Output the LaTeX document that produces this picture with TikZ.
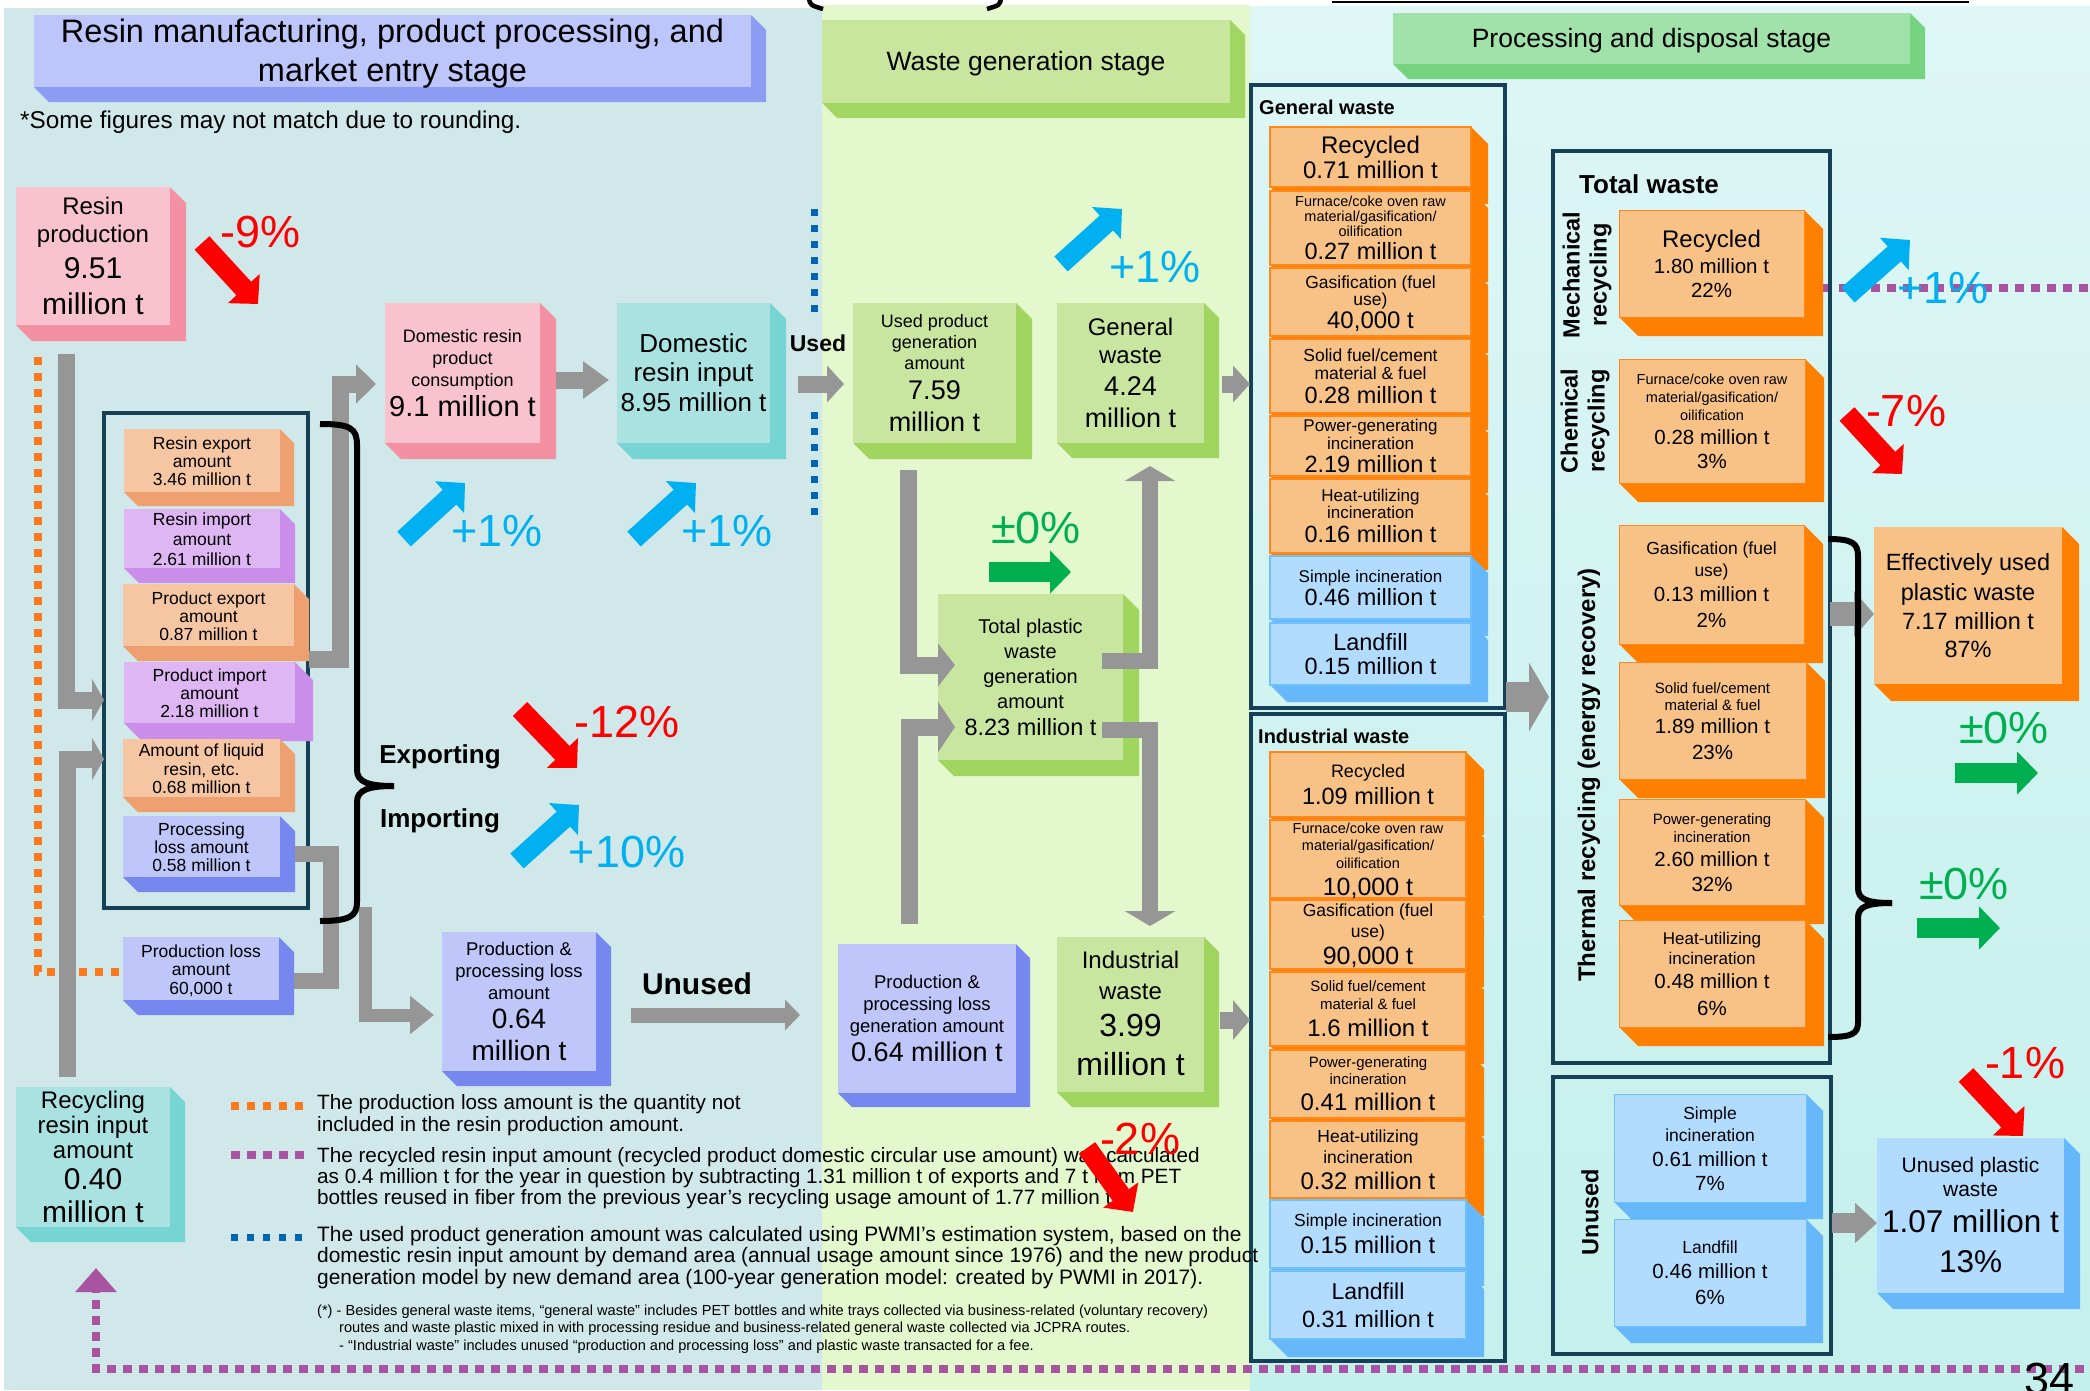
\documentclass[tikz,border=0pt]{standalone}
\usepackage{fontspec}
\setmainfont{Liberation Sans}
\usetikzlibrary{arrows.meta,calc}

\definecolor{bgL}{RGB}{208,232,234}
\definecolor{bgM}{RGB}{228,248,206}
\definecolor{bgRt}{RGB}{222,246,246}
\definecolor{bgRb}{RGB}{196,240,236}
\definecolor{pinkF}{RGB}{248,194,206}
\definecolor{pinkS}{RGB}{243,144,162}
\definecolor{tealF}{RGB}{170,226,226}
\definecolor{tealS}{RGB}{118,212,210}
\definecolor{periF}{RGB}{190,198,250}
\definecolor{periS}{RGB}{118,136,240}
\definecolor{peachF}{RGB}{246,198,162}
\definecolor{peachS}{RGB}{238,160,112}
\definecolor{lilacF}{RGB}{222,182,244}
\definecolor{lilacS}{RGB}{202,142,234}
\definecolor{leafF}{RGB}{200,230,160}
\definecolor{leafS}{RGB}{160,214,96}
\definecolor{wOrF}{RGB}{248,194,134}
\definecolor{wOrB}{RGB}{255,136,24}
\definecolor{wOrS}{RGB}{255,128,0}
\definecolor{wBlF}{RGB}{178,220,255}
\definecolor{wBlB}{RGB}{112,192,252}
\definecolor{wBlS}{RGB}{102,184,250}
\definecolor{hdAF}{RGB}{188,198,250}
\definecolor{hdAS}{RGB}{140,156,242}
\definecolor{hdBF}{RGB}{200,230,158}
\definecolor{hdBS}{RGB}{162,214,98}
\definecolor{hdCF}{RGB}{160,226,170}
\definecolor{hdCS}{RGB}{118,212,128}
\definecolor{frame}{RGB}{22,64,86}
\definecolor{flowgray}{RGB}{150,150,150}
\definecolor{upblue}{RGB}{0,176,240}
\definecolor{downred}{RGB}{255,0,0}
\definecolor{flatgreen}{RGB}{0,176,80}
\definecolor{dotorange}{RGB}{250,120,30}
\definecolor{dotpurple}{RGB}{168,84,160}
\definecolor{dotblue}{RGB}{0,100,180}

% one centred text line: size, distance from previous baseline, text
\newcommand{\tline}[3]{\baselineskip=#2pt\relax\hbox to 0pt{\hss\fontsize{#1}{#1}\selectfont\vphantom{Ag}#3\hss}}
% one left-aligned text line
\newcommand{\legline}[3]{\baselineskip=#2pt\relax\hbox{\fontsize{#1}{#1}\selectfont\vphantom{Ag}#3}}
\newcommand{\textstack}[1]{\vbox{\lineskiplimit=-1000pt\lineskip=0pt\relax#1}}

% box with a bevelled right side and bottom:
% name, x1, y1, x2, y2, depth, face style, side colour, text lines
\newcommand{\tdbox}[9]{%
  \fill[#8] (#4,#3) -- ({#4+#6},{#3+#6}) -- ({#4+#6},{#5+#6}) -- ({#2+#6},{#5+#6}) -- (#2,#5) -- cycle;
  \node[face, #7, minimum width={#4-#2}, minimum height={#5-#3}] (#1) at ({(#2+#4)/2},{(#3+#5)/2}) {};
  \node[inner sep=0pt] (#1-t) at ($(#1.center)+(0,2.5)$) {\textstack{#9}};
}

\tikzset{
  face/.style={rectangle, inner sep=0pt, outer sep=0pt},
  frame box/.style={draw=frame, line width=4.5pt},
  worow/.style={fill=wOrF, draw=wOrB, line width=2pt},
  wbrow/.style={fill=wBlF, draw=wBlB, line width=2pt},
  torow/.style={fill=wOrF, draw=wOrB, line width=1pt},
  tbrow/.style={fill=wBlF, draw=wBlB, line width=1pt},
  flow/.style={draw=flowgray, line width=17pt, -{Triangle[length=20pt,width=38pt]}},
  flowbar/.style={draw=flowgray, line width=16pt},
  trendup/.style={draw=upblue, line width=20pt, -{Triangle[length=21pt,width=42pt]}},
  trenddown/.style={draw=downred, line width=20pt, -{Triangle[length=21pt,width=42pt]}},
  trendflat/.style={draw=flatgreen, line width=20pt, -{Triangle[length=21pt,width=42pt]}},
  pct/.style={inner sep=0pt, font=\fontsize{45}{45}\selectfont},
  lbl/.style={inner sep=0pt},
  odot/.style={draw=dotorange, line width=8pt, dash pattern=on 8pt off 8pt},
  pdot/.style={draw=dotpurple, line width=8pt, dash pattern=on 9pt off 7pt},
  bdot/.style={draw=dotblue, line width=7pt, dash pattern=on 7pt off 9pt},
  brace/.style={draw=black, line width=6pt},
}

\begin{document}
\begin{tikzpicture}[x=1pt,y=-1pt]
\useasboundingbox (0,0) rectangle (2090,1390);
\clip (0,0) rectangle (2090,1390);

% stage backgrounds
\fill[white] (0,0) rectangle (2090,1390);
\fill[bgL] (4,8) rectangle (822,1390);
\fill[bgM] (822,5) rectangle (1250,1390);
\shade[top color=bgRt, bottom color=bgRb] (1250,6) rectangle (2090,1390);

% cropped heading marks along the top edge
\draw[line width=2pt] (1332,2) -- (1969,2);
\draw[line width=4.5pt] (809,-2) .. controls (810,5) .. (823,9);
\draw[line width=4.5pt] (1001,-2) .. controls (1000,5) .. (987,9);

% stage headers
\tdbox{hdA}{34}{15}{751}{87}{15}{fill=hdAF}{hdAS}{\tline{32.5}{0}{Resin manufacturing, product processing, and}\tline{32.5}{39}{market entry stage}}
\tdbox{hdB}{822}{20}{1230}{103}{15}{fill=hdBF}{hdBS}{\tline{26.5}{0}{Waste generation stage}}
\tdbox{hdC}{1393}{13}{1910}{64}{15}{fill=hdCF}{hdCS}{\tline{26.5}{0}{Processing and disposal stage}}

\node[lbl, anchor=west] (rounding) at (20,122) {\fontsize{24.3}{24.3}\selectfont *Some figures may not match due to rounding.};

% dotted guide lines
\coordinate (lossNoteTop) at (38,357);
\coordinate (lossNoteBend) at (38,972);
\coordinate (usedDotA) at (814,209);
\coordinate (usedDotB) at (814,316);
\coordinate (usedDotC) at (814,412);
\coordinate (usedDotD) at (814,520);
\draw[bdot] (usedDotA) -- (usedDotB);
\draw[bdot] (usedDotC) -- (usedDotD);

% legend samples
\coordinate (legOA) at (231,1106); \coordinate (legOB) at (304,1106);
\coordinate (legPA) at (231,1155); \coordinate (legPB) at (304,1155);
\coordinate (legBA) at (231,1237); \coordinate (legBB) at (304,1237);
\draw[odot] (legOA) -- (legOB);
\draw[pdot] (legPA) -- (legPB);
\draw[bdot] (legBA) -- (legBB);

% ---------- left stage ----------
\node[face, frame box, minimum width=204, minimum height=495] (trade) at (206,660.5) {};

\tdbox{rp}{16}{187}{170}{325}{16}{fill=pinkF}{pinkS}{\tline{24}{0}{Resin}\tline{24}{28}{production}\tline{30}{36}{9.51}\tline{30}{36}{million t}}
\tdbox{rex}{124}{429}{280}{492}{14}{fill=peachF}{peachS}{\tline{17.5}{0}{Resin export}\tline{17.5}{18}{amount}\tline{17.5}{18}{3.46 million t}}
\tdbox{rim}{124}{509}{280}{568}{15}{fill=lilacF}{lilacS}{\tline{17.5}{0}{Resin import}\tline{17.5}{19.5}{amount}\tline{17.5}{20}{2.61 million t}}
\tdbox{pex}{123}{584}{294}{646}{15}{fill=peachF}{peachS}{\tline{17.5}{0}{Product export}\tline{17.5}{18}{amount}\tline{17.5}{18}{0.87 million t}}
\tdbox{pim}{124}{662}{295}{723}{18}{fill=lilacF}{lilacS}{\tline{17.5}{0}{Product import}\tline{17.5}{18}{amount}\tline{17.5}{18}{2.18 million t}}
\tdbox{liq}{123}{739}{280}{797}{15}{fill=peachF}{peachS}{\tline{17.5}{0}{Amount of liquid}\tline{17.5}{18.5}{resin, etc.}\tline{17.5}{18.5}{0.68 million t}}
\tdbox{pl}{123}{816}{280}{877}{15}{fill=periF}{periS}{\tline{17.5}{0}{Processing}\tline{17.5}{18}{loss amount}\tline{17.5}{18}{0.58 million t}}
\tdbox{prl}{123}{937}{279}{1000}{15}{fill=periF}{periS}{\tline{17.5}{0}{Production loss}\tline{17.5}{18.5}{amount}\tline{17.5}{18.5}{60,000 t}}
\tdbox{drpc}{385}{303}{540}{443}{16}{fill=pinkF}{pinkS}{\tline{18}{0}{Domestic resin}\tline{18}{22}{product}\tline{18}{22}{consumption}\tline{29}{30}{9.1 million t}}
\tdbox{dri}{617}{303}{770}{443}{16}{fill=tealF}{tealS}{\tline{26}{0}{Domestic}\tline{26}{29.5}{resin input}\tline{26}{30}{8.95 million t}}
\tdbox{ppla}{442}{932}{596}{1071}{15}{fill=periF}{periS}{\tline{18.5}{0}{Production \&}\tline{18.5}{22}{processing loss}\tline{18.5}{22}{amount}\tline{28}{29}{0.64}\tline{28}{32}{million t}}
\tdbox{rri}{16}{1087}{170}{1227}{15}{fill=tealF}{tealS}{\tline{24}{0}{Recycling}\tline{24}{25}{resin input}\tline{24}{25}{amount}\tline{30}{31}{0.40}\tline{30}{33}{million t}}

\draw[odot] (lossNoteTop) -- (lossNoteBend) -- ($(prl.west)+(-4,3.5)$);

% ---------- waste generation stage ----------
\tdbox{upg}{853}{303}{1016}{443}{16}{fill=leafF}{leafS}{\tline{18}{0}{Used product}\tline{18}{21}{generation}\tline{18}{21}{amount}\tline{27}{30}{7.59}\tline{27}{32}{million t}}
\tdbox{gw}{1057}{303}{1204}{443}{15}{fill=leafF}{leafS}{\tline{24}{0}{General}\tline{24}{28}{waste}\tline{27}{32}{4.24}\tline{27}{32}{million t}}
\tdbox{tpw}{938}{594}{1123}{760}{16}{fill=leafF}{leafS}{\tline{20}{0}{Total plastic}\tline{20}{25}{waste}\tline{20}{25}{generation}\tline{20}{25}{amount}\tline{23.5}{27}{8.23 million t}}
\tdbox{iw}{1057}{937}{1204}{1092}{15}{fill=leafF}{leafS}{\tline{24}{0}{Industrial}\tline{24}{31}{waste}\tline{32}{37}{3.99}\tline{32}{39}{million t}}
\tdbox{pplg}{838}{944}{1016}{1093}{14}{fill=periF}{periS}{\tline{18.5}{0}{Production \&}\tline{18.5}{22}{processing loss}\tline{18.5}{22}{generation amount}\tline{27}{29}{0.64 million t}}

% ---------- processing and disposal stage ----------
\draw[pdot] ($(0,288)+(1823,0)$) -- (2100,288);
\node[face, frame box, minimum width=254, minimum height=623] (gwc) at (1378,396.5) {};
\node[face, frame box, minimum width=254, minimum height=647] (iwc) at (1378,1037.5) {};
\node[face, frame box, minimum width=277, minimum height=912] (twc) at (1691.5,607) {};
\node[face, frame box, minimum width=278, minimum height=277] (uc) at (1692,1215.5) {};

\node[lbl, anchor=west] (lblGW) at (1259,107) {\fontsize{20}{20}\selectfont\bfseries General waste};
\node[lbl, anchor=west] (lblIW) at (1258,736) {\fontsize{20}{20}\selectfont\bfseries Industrial waste};
\node[lbl, anchor=west] (lblTW) at (1579,184) {\fontsize{26}{26}\selectfont\bfseries Total waste};

\tdbox{g1}{1270}{127}{1471}{187}{17}{worow}{wOrS}{\tline{24}{0}{Recycled}\tline{24}{25}{0.71 million t}}
\tdbox{g2}{1270}{191}{1471}{265}{17}{worow}{wOrS}{\tline{14.5}{0}{Furnace/coke oven raw}\tline{14.5}{15}{material/gasification/}\tline{14.5}{15}{oilification}\tline{23.5}{23}{0.27 million t}}
\tdbox{g3}{1270}{268}{1471}{336}{17}{worow}{wOrS}{\tline{17.5}{0}{Gasification (fuel}\tline{17.5}{17}{use)}\tline{24}{23.5}{40,000 t}}
\tdbox{g4}{1270}{339}{1471}{413}{17}{worow}{wOrS}{\tline{17.5}{0}{Solid fuel/cement}\tline{17.5}{18}{material \& fuel}\tline{23.5}{23.5}{0.28 million t}}
\tdbox{g5}{1270}{416}{1471}{476}{17}{worow}{wOrS}{\tline{17}{0}{Power-generating}\tline{17}{18}{incineration}\tline{23.5}{22.5}{2.19 million t}}
\tdbox{g6}{1270}{479}{1471}{553}{17}{worow}{wOrS}{\tline{17}{0}{Heat-utilizing}\tline{17}{17}{incineration}\tline{23.5}{23.5}{0.16 million t}}
\tdbox{g7}{1270}{556}{1471}{619}{17}{wbrow}{wBlS}{\tline{17}{0}{Simple incineration}\tline{23.5}{23}{0.46 million t}}
\tdbox{g8}{1270}{623}{1471}{685}{17}{wbrow}{wBlS}{\tline{23.5}{0}{Landfill}\tline{23.5}{24}{0.15 million t}}

\tdbox{i1}{1270}{752}{1466}{817}{18}{worow}{wOrS}{\tline{18}{0}{Recycled}\tline{23.5}{27}{1.09 million t}}
\tdbox{i2}{1270}{820}{1466}{898}{18}{worow}{wOrS}{\tline{14.5}{0}{Furnace/coke oven raw}\tline{14.5}{17.5}{material/gasification/}\tline{14.5}{17.5}{oilification}\tline{25}{27}{10,000 t}}
\tdbox{i3}{1270}{900}{1466}{969}{18}{worow}{wOrS}{\tline{17.5}{0}{Gasification (fuel}\tline{17.5}{21}{use)}\tline{25}{27}{90,000 t}}
\tdbox{i4}{1270}{972}{1466}{1046}{18}{worow}{wOrS}{\tline{15}{0}{Solid fuel/cement}\tline{15}{18}{material \& fuel}\tline{24}{27}{1.6 million t}}
\tdbox{i5}{1270}{1050}{1466}{1118}{18}{worow}{wOrS}{\tline{15}{0}{Power-generating}\tline{15}{17}{incineration}\tline{24}{26}{0.41 million t}}
\tdbox{i6}{1270}{1121}{1466}{1198}{18}{worow}{wOrS}{\tline{17.5}{0}{Heat-utilizing}\tline{17.5}{21}{incineration}\tline{24}{26}{0.32 million t}}
\tdbox{i7}{1270}{1200}{1466}{1268}{18}{wbrow}{wBlS}{\tline{17.5}{0}{Simple incineration}\tline{24}{27}{0.15 million t}}
\tdbox{i8}{1270}{1271}{1466}{1339}{18}{wbrow}{wBlS}{\tline{23}{0}{Landfill}\tline{23.5}{28}{0.31 million t}}

\tdbox{t1}{1619}{210}{1804}{317}{19}{torow}{wOrS}{\tline{24}{0}{Recycled}\tline{20.5}{25.5}{1.80 million t}\tline{20.5}{24}{22\%}}
\tdbox{t2}{1619}{359}{1805}{483}{19}{torow}{wOrS}{\tline{14.5}{0}{Furnace/coke oven raw}\tline{14.5}{18}{material/gasification/}\tline{14.5}{18}{oilification}\tline{20.5}{24}{0.28 million t}\tline{20.5}{24}{3\%}}
\tdbox{t3}{1619}{525}{1804}{644}{19}{torow}{wOrS}{\tline{17.5}{0}{Gasification (fuel}\tline{17.5}{22}{use)}\tline{20.5}{24.5}{0.13 million t}\tline{20.5}{26}{2\%}}
\tdbox{t4}{1619}{662}{1806}{779}{19}{torow}{wOrS}{\tline{15}{0}{Solid fuel/cement}\tline{15}{17}{material \& fuel}\tline{20.5}{23.5}{1.89 million t}\tline{20.5}{26}{23\%}}
\tdbox{t5}{1619}{799}{1805}{905}{19}{torow}{wOrS}{\tline{15}{0}{Power-generating}\tline{15}{18}{incineration}\tline{20.5}{24.5}{2.60 million t}\tline{20.5}{25}{32\%}}
\tdbox{t6}{1619}{920}{1805}{1027}{19}{torow}{wOrS}{\tline{17}{0}{Heat-utilizing}\tline{17}{20}{incineration}\tline{20.5}{24.5}{0.48 million t}\tline{20.5}{27}{6\%}}
\tdbox{u1}{1614}{1094}{1806}{1202}{17}{tbrow}{wBlS}{\tline{17.5}{0}{Simple}\tline{17.5}{22}{incineration}\tline{20.5}{25}{0.61 million t}\tline{20.5}{24}{7\%}}
\tdbox{u2}{1614}{1219}{1806}{1326}{17}{tbrow}{wBlS}{\tline{17.5}{0}{Landfill}\tline{20.5}{25}{0.46 million t}\tline{20.5}{26}{6\%}}

\tdbox{euw}{1874}{527}{2062}{684}{17}{fill=wOrF}{wOrS}{\tline{23.5}{0}{Effectively used}\tline{23.5}{30}{plastic waste}\tline{23.5}{29}{7.17 million t}\tline{23.5}{28}{87\%}}
\tdbox{upw}{1877}{1138}{2064}{1293}{16}{fill=wBlF}{wBlS}{\tline{21}{0}{Unused plastic}\tline{21}{24}{waste}\tline{31.5}{36.5}{1.07 million t}\tline{31.5}{40}{13\%}}

\node[lbl, rotate=90] (lblMech) at (1587,275) {\textstack{\tline{23.5}{0}{\bfseries Mechanical}\tline{23.5}{27}{\bfseries recycling}}};
\node[lbl, rotate=90] (lblChem) at (1585,421) {\textstack{\tline{23.5}{0}{\bfseries Chemical}\tline{23.5}{27}{\bfseries recycling}}};
\node[lbl, rotate=90] (lblTherm) at (1589,775) {\fontsize{24}{24}\selectfont\bfseries Thermal recycling (energy recovery)};
\node[lbl, rotate=90] (lblUnusedR) at (1590,1212) {\fontsize{23.5}{23.5}\selectfont\bfseries Unused};

% ---------- grey flows ----------
\coordinate (rpOut) at (66,354);
\coordinate (rpBend) at (66,700);
\draw[flow, -{Triangle[length=12pt,width=42pt]}] (rpOut) -- (rpBend) -- (rpBend -| trade.west);
\coordinate (rriOut) at (67,1077);
\coordinate (rriBend) at (67,759);
\draw[flow, -{Triangle[length=12pt,width=42pt]}] (rriOut) -- (rriBend) -- (rriBend -| trade.west);

\coordinate (exBend) at (340,384);
\draw[flow] ($(pex.east)+(15,44)$) -| (exBend) -- ($(exBend -| drpc.west)+(-9,0)$);
\draw[flow, -{Triangle[length=26pt,width=36pt]}] ($(drpc.east)+(16,7)$) -- ($(dri.west)+(-8,7)$);
\draw[flow, -{Triangle[length=17pt,width=36pt]}] ($(dri.east)+(28,11)$) -- ($(upg.west)+(-9,11)$);

\draw[flowbar] ($(pl.east)+(15,7)$) -- ++(36,0) |- ($(prl.east)+(15,12)$);
\coordinate (lossIn) at (365,907);
\draw[flow, line width=13pt, -{Triangle[length=24pt,width=37pt]}] (lossIn) |- ($(ppla.west)+(-8,13.5)$);
\draw[flow, line width=15pt, -{Triangle[length=15pt,width=30pt]}] ($(ppla.east)+(35,13.5)$) -- ($(ppla.east -| pplg.west)+(-38,13.5)$);

\draw[flow, -{Triangle[length=17pt,width=42pt]}] ($(upg.south)+(-26.5,27)$) |- ($(tpw.west)+(17,-12)$);
\draw[flow, -{Triangle[length=17pt,width=50pt]}] ($(pplg.north)+(-18,-20)$) |- ($(tpw.west)+(17,50)$);
\draw[flow, line width=16pt, -{Triangle[length=15pt,width=50pt]}] ($(tpw.east)+(-21,-16)$) -| ($(gw.south)+(19.5,23)$);
\draw[flow, line width=16pt, -{Triangle[length=15pt,width=50pt]}] ($(tpw.east)+(-21,53)$) -| ($(iw.north)+(19.5,-11)$);
\draw[flow, -{Triangle[length=17pt,width=36pt]}] ($(gw.east)+(18,11)$) -- ($(gw.east -| gwc.west)+(-1,11)$);
\draw[flow, -{Triangle[length=17pt,width=39pt]}] ($(iw.east)+(16,5.5)$) -- ($(iw.east -| iwc.west)+(-1,5.5)$);

\draw[flow, line width=30pt, -{Triangle[length=20pt,width=68pt]}] ($(gwc.south east)+(1,-11)$) -- ($(gwc.south east -| twc.west)+(-4,-11)$);
\coordinate (thermOut) at (1830,614);
\draw[flow, line width=24pt, -{Triangle[length=20pt,width=45pt]}] (thermOut) -- (thermOut -| euw.west);
\draw[flow, line width=20pt, -{Triangle[length=22pt,width=39pt]}] ($(uc.east)+(1,7.5)$) -- ($(upw.west)+(0,7.5)$);

% recycled resin loop back to the resin input
\coordinate (loopR) at (2100,1369);
\coordinate (loopL) at (96,1369);
\draw[pdot, -{Triangle[length=24pt,width=40pt]}] (loopR) -- (loopL) -- ($(rri.south)+(3,41)$);

% braces
\draw[brace] (320,424) .. controls (350,424) and (357,428) .. (357,445) -- (357,770) .. controls (357,782) and (368,786) .. (394,786);
\draw[brace] (394,786) .. controls (368,786) and (357,790) .. (357,802) -- (357,902) .. controls (357,916) and (350,921) .. (320,921);
\draw[brace] (1828,539) .. controls (1852,539) and (1858,543) .. (1858,556) -- (1858,888) .. controls (1858,899) and (1866,903) .. (1892,903);
\draw[brace] (1892,903) .. controls (1866,903) and (1858,907) .. (1858,918) -- (1858,1022) .. controls (1858,1034) and (1852,1037) .. (1828,1037);

% flow labels
\node[lbl] (lblUsed) at (818,343) {\fontsize{23}{23}\selectfont\bfseries Used};
\node[lbl] (lblExp) at (440,757) {\fontsize{26}{26}\selectfont\bfseries Exporting};
\node[lbl] (lblImp) at (440,821) {\fontsize{26}{26}\selectfont\bfseries Importing};
\node[lbl] (lblUnused) at (697,984) {\fontsize{30}{30}\selectfont\bfseries Unused};

% notes
\node[lbl, anchor=base west] (noteA) at (317,1131) {\textstack{\legline{20.7}{0}{The production loss amount is the quantity not}\legline{20.7}{22}{included in the resin production amount.}}};
\node[lbl, anchor=base west] (noteB) at (317,1204) {\textstack{\legline{20.7}{0}{The recycled resin input amount (recycled product domestic circular use amount) was calculated}\legline{20.7}{21}{as 0.4 million t for the year in question by subtracting 1.31 million t of exports and 7 t from PET}\legline{20.7}{21}{bottles reused in fiber from the previous year’s recycling usage amount of 1.77 million t.}}};
\node[lbl, anchor=base west] (noteC) at (317,1284) {\textstack{\legline{20.9}{0}{The used product generation amount was calculated using PWMI’s estimation system, based on the}\legline{20.9}{21.5}{domestic resin input amount by demand area (annual usage amount since 1976) and the new product}\legline{20.9}{21.5}{generation model by new demand area (100-year generation model: created by PWMI in 2017).}}};
\node[lbl, anchor=base west] (noteD) at (317,1350) {\textstack{\legline{14.6}{0}{(*) - Besides general waste items, “general waste” includes PET bottles and white trays collected via business-related (voluntary recovery)}\legline{14.6}{17.5}{\hskip22pt routes and waste plastic mixed in with processing residue and business-related general waste collected via JCPRA routes.}\legline{14.6}{17.5}{\hskip22pt - “Industrial waste” includes unused “production and processing loss” and plastic waste transacted for a fee.}}};

% year-on-year changes
\draw[trenddown] (202,243) -- (258,304);
\node[pct, text=downred] (pctRP) at (261,232) {-9\%};
\draw[trendup] (404,539) -- (465,483);
\node[pct, text=upblue] (pctDC) at (497,531) {+1\%};
\draw[trendup] (634,539) -- (696,483);
\node[pct, text=upblue] (pctDI) at (727,531) {+1\%};
\draw[trenddown] (520,709) -- (577,768);
\node[pct, text=downred] (pctEx) at (627,722) {-12\%};
\draw[trendup] (517,861) -- (579,805);
\node[pct, text=upblue] (pctIm) at (627,852) {+10\%};
\draw[trendup] (1061,264) -- (1122,209);
\node[pct, text=upblue] (pctGW) at (1155,267) {+1\%};
\draw[trendflat] (989,572) -- (1071,572);
\node[pct, text=flatgreen] (pctTP) at (1036,528) {±0\%};
\draw[trenddown] (1087,1148) -- (1133,1212);
\node[pct, text=downred] (pctIW) at (1140,1139) {-2\%};
\draw[trendup] (1848,295) -- (1910,240);
\node[pct, text=upblue] (pctMR) at (1943,288) {+1\%};
\draw[trenddown] (1847,414) -- (1902,474);
\node[pct, text=downred] (pctCR) at (1906,411) {-7\%};
\draw[trendflat] (1955,773) -- (2038,773);
\node[pct, text=flatgreen] (pctEU) at (2004,728) {±0\%};
\draw[trendflat] (1917,928) -- (2000,928);
\node[pct, text=flatgreen] (pctTR) at (1964,884) {±0\%};
\draw[trenddown] (1966,1075) -- (2023,1136);
\node[pct, text=downred] (pctUP) at (2025,1063) {-1\%};

\node[lbl, anchor=base west] (pageNo) at (2024,1394) {\fontsize{45}{45}\selectfont 34};
\end{tikzpicture}
\end{document}
